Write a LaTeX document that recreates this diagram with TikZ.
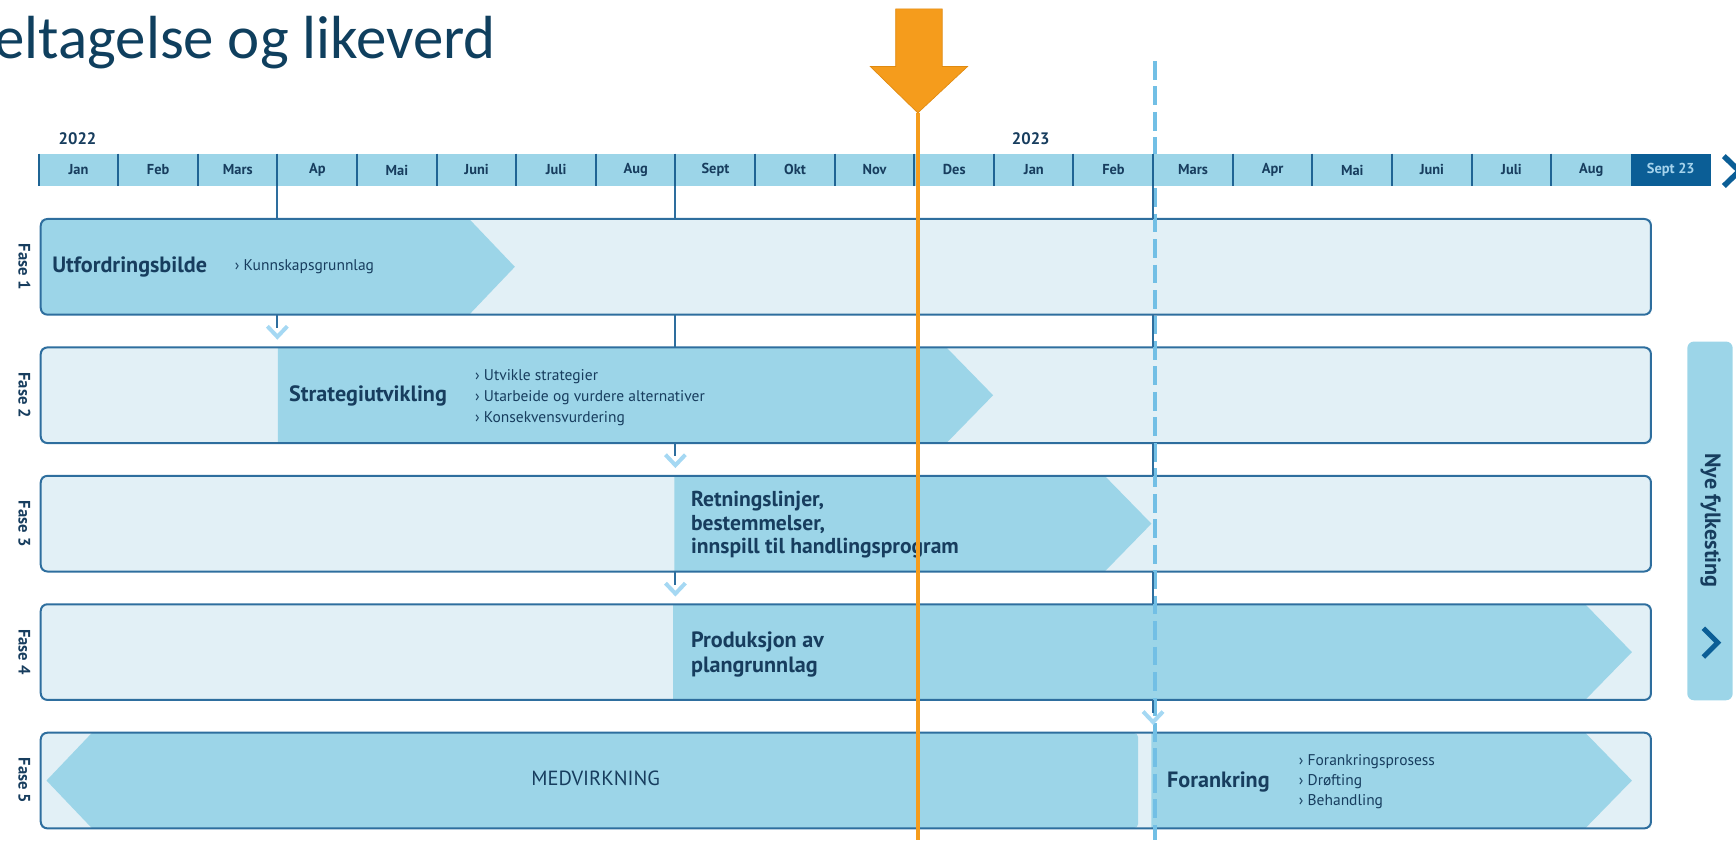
\documentclass[tikz,border=0pt]{standalone}
\usepackage{fontspec}
\setmainfont{PT Sans}
\newfontfamily\titlefont{Carlito}
\usetikzlibrary{calc}
\definecolor{navy}{HTML}{173D5E}
\definecolor{titleblue}{HTML}{0F3F5E}
\definecolor{barfill}{HTML}{9CD5E8}
\definecolor{boxfill}{HTML}{E2F0F6}
\definecolor{borderblue}{HTML}{2E6E9E}
\definecolor{tickblue}{HTML}{1F6494}
\definecolor{darkmonth}{HTML}{0B5E96}
\definecolor{septtext}{HTML}{A5D3EC}
\definecolor{orangec}{HTML}{F59C1C}
\definecolor{orangedark}{HTML}{E08A10}
\definecolor{dashblue}{HTML}{72BFE5}
\definecolor{chevblue}{HTML}{A5D8F3}
\definecolor{chevdark}{HTML}{0B5E96}
\begin{document}
\begin{tikzpicture}[x=1pt,y=-1pt,
  month/.style={minimum width=71.905pt, minimum height=29pt, inner sep=0pt, fill=barfill, text=navy, font=\bfseries\fontsize{13}{15}\selectfont},
  tickline/.style={draw=tickblue, line width=1.8pt},
  yearlbl/.style={text=navy, font=\bfseries\fontsize{15}{17}\selectfont, inner sep=0pt},
  phasebox/.style={minimum width=1454pt, minimum height=86pt, inner sep=0pt, fill=boxfill},
  border/.style={draw=borderblue, line width=1.8pt, rounded corners=6pt},
  inner/.style={fill=barfill},
  ptitle/.style={text=navy, font=\bfseries\fontsize{20}{21}\selectfont, inner sep=0pt, anchor=west, align=left},
  bul/.style={text=navy, font=\fontsize{14}{19}\selectfont, inner sep=0pt, anchor=west, align=left},
  faselbl/.style={text=navy, font=\bfseries\fontsize{15}{17}\selectfont, inner sep=0pt, rotate=-90},
  conn/.style={draw=borderblue, line width=1.8pt},
  lchev/.style={draw=chevblue, line width=3.6pt},
  darkchev/.style={draw=chevdark, line width=5pt},
  dashline/.style={draw=dashblue, line width=3.6pt, dash pattern=on 17pt off 6pt},
  orangeline/.style={draw=orangec, line width=3.8pt},
  nyebox/.style={minimum width=41pt, minimum height=324pt, inner sep=0pt, fill=barfill, rounded corners=6pt},
  nyetext/.style={text=navy, font=\bfseries\fontsize{20}{22}\selectfont, inner sep=0pt, rotate=-90}
]
\useasboundingbox (0,0) rectangle (1568,759);

% title
\node[anchor=base east, inner sep=0pt, text=titleblue, font=\titlefont\fontsize{55}{60}\selectfont] (title) at (448,52.6) {eltagelse og likeverd};

% years
\node[yearlbl] (y22) at (70,125) {2022};
\node[yearlbl] (y23) at (931,125) {2023};

% phase boxes
\foreach \i in {1,...,5}
  \node[phasebox] (f\i) at (764,{241+116*(\i-1)}) {};

% inner arrows
\begin{scope}
  \clip[rounded corners=6pt] (f1.north west) rectangle (f1.south east);
  \fill[inner] (f1.north west) -- (424,198) -- (465,241) -- (424,284) -- (f1.south west) -- cycle;
\end{scope}
\begin{scope}
  \clip[rounded corners=6pt] (f2.north west) rectangle (f2.south east);
  \fill[inner] (251,314) -- (855,314) -- (897,357) -- (855,400) -- (251,400) -- cycle;
\end{scope}
\begin{scope}
  \clip[rounded corners=6pt] (f3.north west) rectangle (f3.south east);
  \fill[inner] (609,430) -- (998,430) -- (1040,473) -- (998,516) -- (609,516) -- cycle;
\end{scope}
\begin{scope}
  \clip[rounded corners=6pt] (f4.north west) rectangle (f4.south east);
  \fill[inner] (608,546) -- (1432,546) -- (1474,589) -- (1432,632) -- (608,632) -- cycle;
\end{scope}
\begin{scope}
  \clip[rounded corners=6pt] (f5.north west) rectangle (f5.south east);
  \fill[inner] (42,705) -- (83,662) [rounded corners=4pt] -- (1028,662) -- (1028,748) [sharp corners] -- (83,748) -- cycle;
  \fill[inner] (1040,662) -- (1432,662) -- (1474,705) -- (1432,748) -- (1040,748) -- cycle;
\end{scope}
\foreach \i in {1,...,5}
  \draw[border] (f\i.north west) rectangle (f\i.south east);

% fase labels
\foreach \i in {1,...,5}
  \node[faselbl] (fl\i) at (22,{241+116*(\i-1)}) {Fase \i};

% phase texts
\node[ptitle] (t1) at (47,241) {Utfordringsbilde};
\node[bul] (b1) at (212,241) {› Kunnskapsgrunnlag};
\node[ptitle] (t2) at (261,358) {Strategiutvikling};
\node[bul] (b2) at (429,359) {› Utvikle strategier\\› Utarbeide og vurdere alternativer\\› Konsekvensvurdering};
\node[ptitle, font=\bfseries\fontsize{19.5}{21}\selectfont] (t3) at (624,474) {Retningslinjer,\\bestemmelser,\\innspill til handlingsprogram};
\node[ptitle, font=\bfseries\fontsize{20}{23}\selectfont] (t4) at (624,591) {Produksjon av\\plangrunnlag};
\node[text=navy, inner sep=0pt, font=\fontsize{18.5}{20}\selectfont] (t5) at (538,703) {MEDVIRKNING};
\node[ptitle] (t6) at (1054,706) {Forankring};
\node[bul, font=\fontsize{14}{18.5}\selectfont] (b6) at (1173,706) {› Forankringsprosess\\› Drøfting\\› Behandling};

% dashed line
\coordinate (dtop) at (1043,55);
\coordinate (dbot) at (1043,759);
\draw[dashline] (dtop) -- (dbot);

% month bar
\foreach \i/\m in {1/Jan,2/Feb,3/Mars,4/Ap,5/Mai,6/Juni,7/Juli,8/Aug,9/Sept,10/Okt,11/Nov,12/Des,13/Jan,14/Feb,15/Mars,16/Apr,17/Mai,18/Juni,19/Juli,20/Aug}
  \node[month] (m\i) at ({35+71.905*(\i-0.5)},153.5) {\m};
\node[month, fill=darkmonth, text=septtext] (m21) at ({35+71.905*20.5},153.5) {Sept 23};
\foreach \i in {1,...,20}
  \draw[tickline] (m\i.north west) -- (m\i.south west);

% connectors
\draw[conn] (m4.south west) -- (m4.south west |- f1.north);
\draw[conn] (m9.south west) -- (m9.south west |- f1.north);
\draw[conn] (m15.south west) -- (m15.south west |- f1.north);
\draw[conn] (m9.south west |- f1.south) -- (m9.south west |- f2.north);
\draw[conn] (m15.south west |- f1.south) -- (m15.south west |- f2.north);
\draw[conn] (m15.south west |- f2.south) -- (m15.south west |- f3.north);
\draw[conn] (m15.south west |- f3.south) -- (m15.south west |- f4.north);
\coordinate (c12) at (m4.south west |- f1.south);
\coordinate (c23) at (m9.south west |- f2.south);
\coordinate (c34) at (m9.south west |- f3.south);
\coordinate (c45) at (m15.south west |- f4.south);
\foreach \c in {c12,c23,c34,c45}{
  \draw[conn] (\c) -- ++(0,12);
  \draw[lchev] ([shift={(-9,10.5)}]\c) -- ++(9,9.5) -- ++(9,-9.5);
}

% right chevron at month bar
\coordinate (rc1) at (1557,141);
\coordinate (rc2) at (1571,154.5);
\coordinate (rc3) at (1557,168);
\draw[darkchev] (rc1) -- (rc2) -- (rc3);

% Nye fylkesting
\node[nyebox] (nye) at (1544.5,470.5) {};
\node[nyetext] (nyet) at (1545,470) {Nye fylkesting};
\draw[darkchev, line width=4.5pt] ([shift={(-6,97)}]nye.center) -- ([shift={(7,110)}]nye.center) -- ([shift={(-6,123)}]nye.center);

% orange marker
\coordinate (otip) at (829,102);
\coordinate (obot) at (829,759);
\draw[orangeline] (otip) -- (obot);
\filldraw[fill=orangec, draw=orangedark, line width=0.6pt] (809,8) -- (851,8) -- (851,60) -- (874,60) -- (otip) -- (786,60) -- (809,60) -- cycle;
\end{tikzpicture}
\end{document}
